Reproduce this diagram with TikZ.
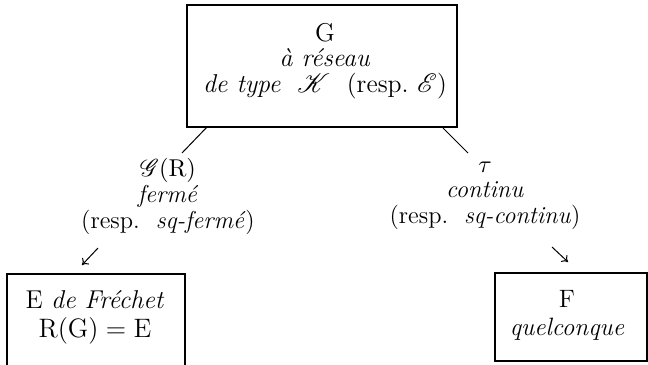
\documentclass[tikz,border=0pt]{standalone}
\usepackage{mathrsfs}
\usetikzlibrary{fit,arrows.meta}
\begin{document}
\begin{tikzpicture}[x=0.45pt,y=-0.45pt,
  frame/.style={draw, line width=0.75pt, inner sep=0pt},
  txt/.style={align=center, inner sep=0pt, anchor=base},
  conn/.style={line width=0.45pt},
  arr/.style={conn, -{To[length=2.6pt,width=4.2pt]}}]
\useasboundingbox (0,0) rectangle (648,364);
% frames
\coordinate (t1) at (187,5);   \coordinate (t2) at (457,127);
\coordinate (l1) at (7,274);   \coordinate (l2) at (185,368);
\coordinate (r1) at (495,273); \coordinate (r2) at (647,361);
\node[frame, fit=(t1)(t2)] (top) {};
\node[frame, fit=(l1)(l2)] (left) {};
\node[frame, fit=(r1)(r2)] (right) {};
% texts (anchored at the baseline of their last line)
\node[txt, font=\fontsize{11.6}{11.4}\selectfont] (toptxt) at (325,92)
  {G\\ \textit{à réseau}\\ \textit{de type} \ $\mathscr{K}$ \ (resp.\ $\mathscr{E}$)};
\node[txt, font=\fontsize{11}{11.7}\selectfont] (lab1) at (168,228)
  {$\mathscr{G}(\mathrm{R})$\\ \textit{fermé}\\ (resp.\ \ \textit{sq-fermé})};
\node[txt, font=\fontsize{11}{11.3}\selectfont] (lab2) at (485,223)
  {$\tau$\\ \textit{continu}\\ (resp.\ \ \textit{sq-continu})};
\node[txt, font=\fontsize{11.6}{13}\selectfont] (lefttxt) at (95,337)
  {E \textit{de Fréchet}\\ $\mathrm{R(G)} = \mathrm{E}$};
\node[txt, font=\fontsize{11.3}{12.6}\selectfont] (righttxt) at (567,335)
  {F\\ \textit{quelconque}};
% connector end points
\coordinate (a1) at (207,127); \coordinate (a2) at (182,153);
\coordinate (b1) at (443,128); \coordinate (b2) at (468,153);
\coordinate (c1) at (98,248);  \coordinate (c2) at (82,265);
\coordinate (d1) at (552,247); \coordinate (d2) at (568,262);
\draw[conn] (a1) -- (a2);
\draw[conn] (b1) -- (b2);
\draw[arr] (c1) -- (c2);
\draw[arr] (d1) -- (d2);
\end{tikzpicture}
\end{document}
